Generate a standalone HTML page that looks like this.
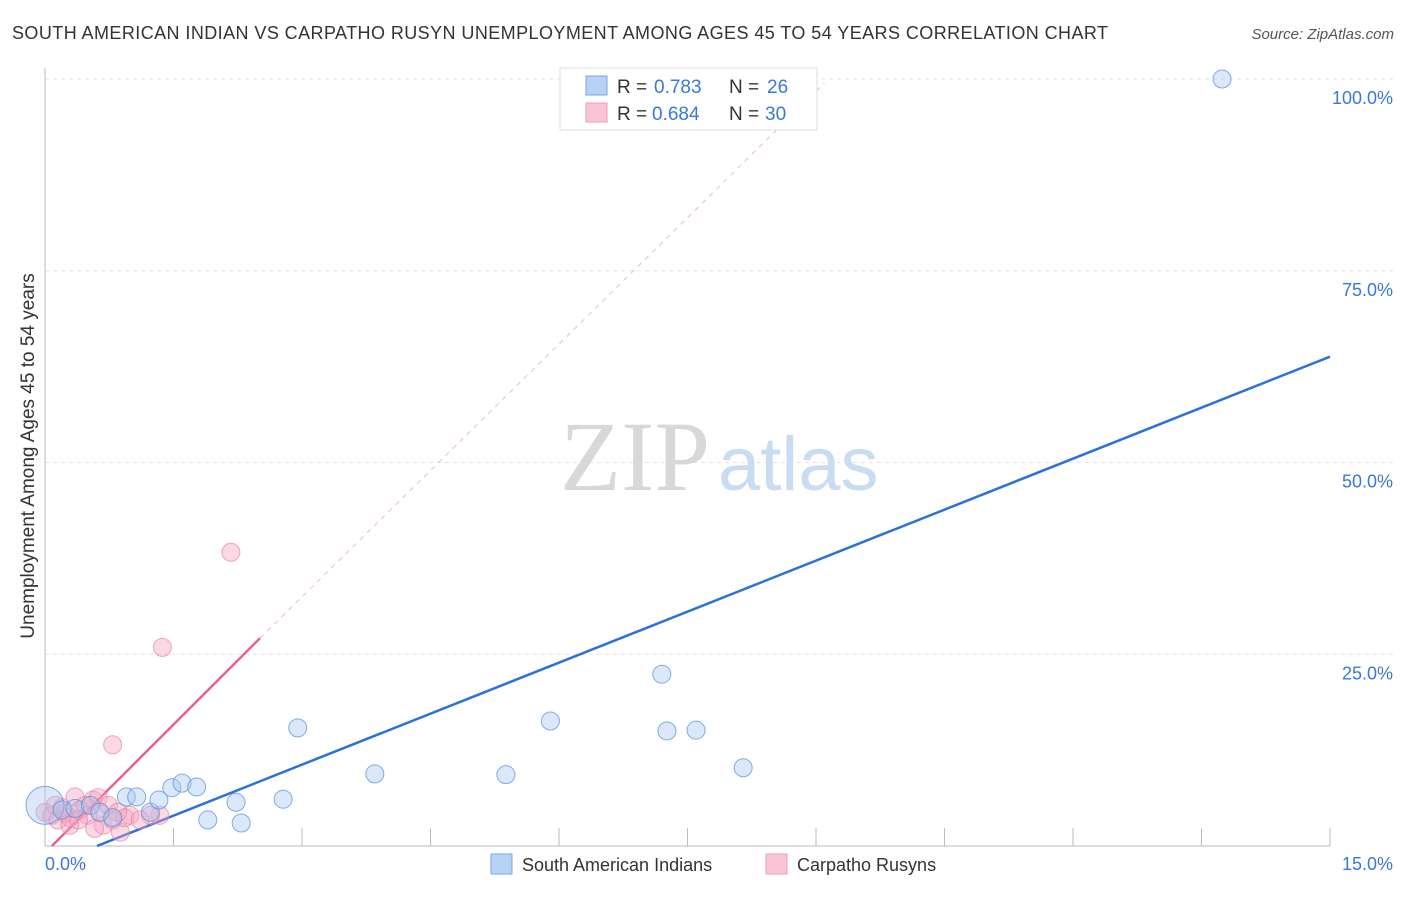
<!DOCTYPE html>
<html><head><meta charset="utf-8"><style>
body{margin:0;background:#fff;font-family:"Liberation Sans",sans-serif;}
</style></head><body>
<svg width="1406" height="892" xmlns="http://www.w3.org/2000/svg">
<text x="12" y="39" font-size="18" fill="#333" textLength="1096">SOUTH AMERICAN INDIAN VS CARPATHO RUSYN UNEMPLOYMENT AMONG AGES 45 TO 54 YEARS CORRELATION CHART</text>
<text x="1394" y="39" font-size="15" fill="#555" font-style="italic" text-anchor="end">Source: ZipAtlas.com</text>
<g id="grid"></g>
<text x="635" y="490" font-size="100" fill="#d8d8d8" font-family="Liberation Serif,serif" text-anchor="middle">ZIP</text>
<text x="718" y="490" font-size="76" fill="#c8dcf2">atlas</text>
<line x1="45" y1="68" x2="45" y2="846" stroke="#bbb"/>
<line x1="45" y1="846" x2="1330" y2="846" stroke="#bbb"/>
<g id="ticks"></g>
<text x="34" y="456" font-size="19" fill="#333" text-anchor="middle" transform="rotate(-90 34 456)">Unemployment Among Ages 45 to 54 years</text>
<text x="45" y="870" font-size="18" fill="#3a78d8">0.0%</text>
<text x="1393" y="870" font-size="18" fill="#3a78d8" text-anchor="end">15.0%</text>
<g id="lines"></g>
<g id="points"></g>
<g>
<rect x="560" y="68" width="257" height="62" fill="#fff" stroke="#ddd"/>
<rect x="586" y="76" width="21" height="19" fill="#b7d2f5" stroke="#7aa6e4"/>
<rect x="586" y="103" width="21" height="19" fill="#fac4d4" stroke="#ef9bb6"/>
<text x="617" y="93" font-size="19" fill="#333">R =</text>
<text x="654" y="93" font-size="19" fill="#3a78d8">0.783</text>
<text x="729" y="93" font-size="19" fill="#333">N =</text>
<text x="767" y="93" font-size="19" fill="#3a78d8">26</text>
<text x="617" y="120" font-size="19" fill="#333">R =</text>
<text x="652" y="120" font-size="19" fill="#3a78d8">0.684</text>
<text x="729" y="120" font-size="19" fill="#333">N =</text>
<text x="765" y="120" font-size="19" fill="#3a78d8">30</text>
</g>
<g>
<rect x="491" y="854" width="21" height="20" fill="#b7d2f5" stroke="#7aa6e4"/>
<text x="522" y="871" font-size="18" fill="#333">South American Indians</text>
<rect x="766" y="854" width="21" height="20" fill="#fac4d4" stroke="#ef9bb6"/>
<text x="797" y="871" font-size="18" fill="#333">Carpatho Rusyns</text>
</g>
</svg>
<script>
const yTicks=[25,50,75,100];
const xTickVals=[0,1.5,3,4.5,6,7.5,9,10.5,12,13.5,15];
const blueX=[0,0.2,0.35,0.53,0.64,0.79,0.95,1.07,1.23,1.33,1.48,1.6,1.77,1.9,2.23,2.29,2.78,2.95,3.85,5.38,5.9,7.2,7.26,7.6,8.15,13.74];
const blueY=[5.3,4.7,4.9,5.3,4.4,3.7,6.4,6.4,4.4,6.0,7.6,8.2,7.7,3.4,5.7,3.0,6.1,15.4,9.4,9.3,16.3,22.4,15.0,15.1,10.2,100];
const pinkX=[0,0.08,0.15,0.23,0.29,0.35,0.41,0.5,0.56,0.62,0.68,0.74,0.79,0.88,0.93,0.99,1.34,0.79,1.37,2.17,0.58,0.47,0.2,0.85,1.23,0.29,0.64,0.12,1.11,0.39];
const pinkY=[4.4,4.0,3.4,4.3,3.7,6.4,4.7,4.0,6.0,6.3,2.7,5.3,3.4,1.8,3.7,4.0,4.0,13.2,25.9,38.3,2.3,5.3,5.0,4.4,4.0,2.7,4.4,5.3,3.4,3.4];
const blueLine=[[0.607,0],[15,63.8]];
const pinkLine=[[0.08,0],[2.51,27.1]];
const pinkDash=[[2.51,27.1],[9.1,99.5]];
const X=v=>45+v/15*1285, Y=v=>846-v*7.67;
const NS='http://www.w3.org/2000/svg';
function mk(t,a,p){const e=document.createElementNS(NS,t);for(const k in a)e.setAttribute(k,a[k]);document.getElementById(p).appendChild(e);return e;}
yTicks.forEach(v=>{
 const l=mk('line',{x1:45,x2:1393,y1:Y(v),y2:Y(v),stroke:'#e3e3e3','stroke-dasharray':'4,4'},'grid');
 
 
 const t=mk('text',{x:1393,y:Y(v)+25,'font-size':18,fill:'#3a78d8','text-anchor':'end'},'grid');
 t.textContent=v.toFixed(1)+'%';
 
 
});
xTickVals.forEach(v=>{
 const l=mk('line',{x1:X(v),x2:X(v),y1:828,y2:846,stroke:'#bbb'},'ticks');
 
 
});
function ln(s,c,w,d,n){const a={x1:X(s[0][0]),y1:Y(s[0][1]),x2:X(s[1][0]),y2:Y(s[1][1]),stroke:c,'stroke-width':w};if(d)a['stroke-dasharray']=d;const e=mk('line',a,'lines');
 
 }
ln(blueLine,'#2a72d8',2.5,null,'blue-trend-line');
ln(pinkLine,'#e8638e',2.5,null,'pink-trend-line');
ln(pinkDash,'#f0b8c8',1,'5,5','pink-trend-extension');
pinkX.forEach((x,i)=>{const c=mk('circle',{cx:X(x),cy:Y(pinkY[i]),r:9,fill:'rgba(244,160,188,0.4)',stroke:'rgba(232,130,165,0.7)'},'points');
 
 });
blueX.forEach((x,i)=>{const c=mk('circle',{cx:X(x),cy:Y(blueY[i]),r:i==0?19:9,fill:'rgba(165,198,240,0.4)',stroke:'rgba(90,145,220,0.75)'},'points');
 
 });
</script>
</body></html>
